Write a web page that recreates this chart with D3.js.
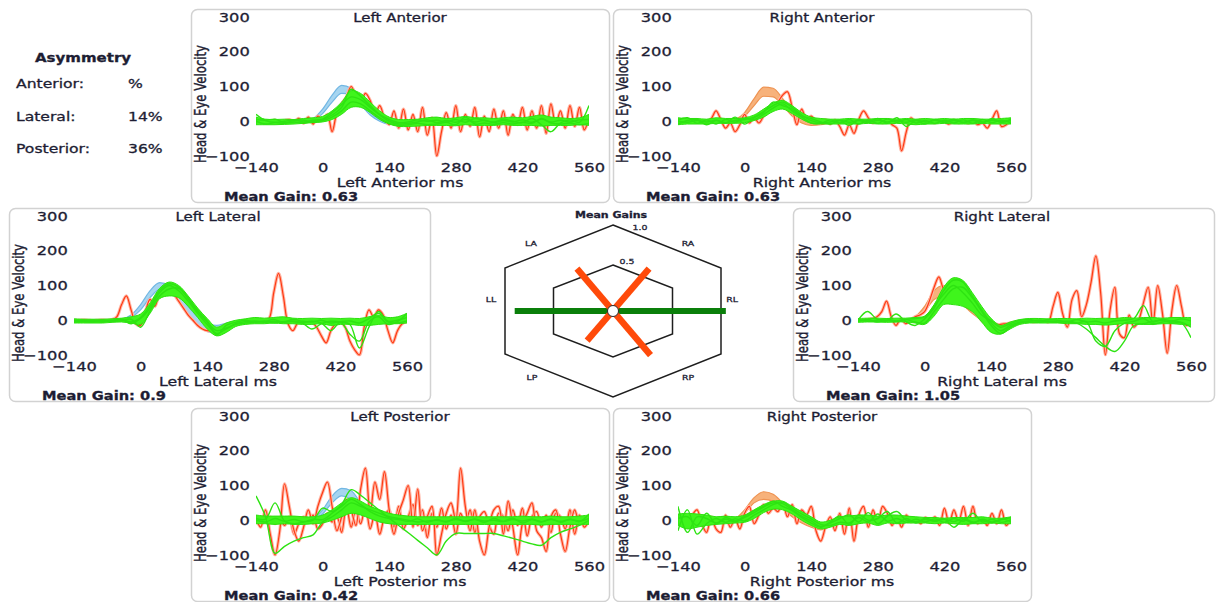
<!DOCTYPE html>
<html>
<head>
<meta charset="utf-8">
<title>Head Impulse Summary</title>
<script src="https://cdn.jsdelivr.net/npm/d3@7/dist/d3.min.js"></script>
<style>
  body { margin: 0; background: #ffffff; }
  text { font-family: "DejaVu Sans", sans-serif; fill: #1d1d33; stroke: #1d1d33; stroke-width: 0.3px; }
</style>
</head>
<body>
<svg id="chart" width="1222" height="602"></svg>
<script>
// Sample times in ms
var headTimes = [-40, -20, 0, 20, 40, 60, 80, 100, 120, 140, 160, 180, 200];
var greenTimes = [-140, -120, -100, -80, -60, -40, -20, 0, 20, 40, 60, 80, 100, 120, 140, 160, 180, 200,
    220, 240, 260, 280, 300, 320, 340, 360, 380, 400, 420, 440, 460, 480, 500, 520, 540, 560];
var redTimes = [-140, -130, -120, -110, -100, -90, -80, -70, -60, -50, -40, -30, -20, -10, 0, 10, 20, 30, 40, 50,
    60, 70, 80, 90, 100, 110, 120, 130, 140, 150, 160, 170, 180, 190, 200, 210, 220, 230, 240, 250,
    260, 270, 280, 290, 300, 310, 320, 330, 340, 350, 360, 370, 380, 390, 400, 410, 420, 430, 440, 450,
    460, 470, 480, 490, 500, 510, 520, 530, 540, 550, 560];

// Left Anterior
var laHeadHi = [0, 8, 35, 75, 103, 95, 60, 25, 5, -5, -5, -2, 0];
var laHeadLo = [0, 3, 22, 55, 80, 78, 48, 18, 0, -8, -8, -3, 0];
var laGreenHi = [12, 6, 5, 6, 5, 8, 10, 14, 30, 55, 88, 80, 55, 30, 12, 5, 5, 6, 10, 12, 8, 10, 14, 10, 10, 8, 10, 12, 10, 14, 18, 12, 10, 8, 10, 20];
var laGreenLo = [-10, -10, -10, -9, -8, -6, -4, -2, 5, 20, 40, 40, 25, 5, -8, -15, -15, -14, -12, -12, -12, -13, -10, -12, -12, -12, -10, -12, -12, -12, -14, -12, -12, -12, -10, -12];
var laGreen1 = [20, 2, -3, 0, 4, -2, 3, 6, 25, 48, 70, 62, 40, 18, 0, -8, -6, -2, 4, -4, 2, -3, 5, -2, 3, -4, 2, -2, 4, -3, 6, -2, 3, -2, 4, 5];
var laGreen2 = [0, -8, -4, -6, -2, -5, 0, 2, 12, 30, 55, 50, 30, 10, -6, -12, -10, -6, -10, -8, -3, -10, 12, -8, -5, -9, -4, -8, -3, -6, 8, -5, -8, -5, -10, -6];
var laGreen3 = [5, 3, 6, -4, 2, 3, -3, 4, 18, 40, 92, 72, 45, 20, 5, -4, -2, 4, 0, 3, -2, 5, -3, 8, 2, -2, 6, 0, -4, 8, -10, -30, -5, 4, -3, 45];
var laRed = [0, -3, 2, -2, 3, -4, 2, 5, -3, 8, -6, 12, -8, 15, 5, 20, -30, 25, 50, 70,
    100, 75, 55, 80, 60, 20, 45, 10, -10, 30, -20, 35, -25, 20, -30, 40, -40, 10, -100, -30,
    25, -20, 45, -30, 20, -15, 40, -45, 15, -30, 35, -20, 30, -40, 20, -10, 40, -25, 30, -20,
    45, -35, 50, -10, 30, -20, 45, -15, 40, -25, 10];

// Right Anterior
var raHeadHi = [0, 5, 25, 65, 98, 95, 65, 30, 8, -2, -4, -2, 0];
var raHeadLo = [0, 2, 15, 45, 72, 70, 45, 15, -5, -12, -10, -4, 0];
var raGreenHi = [10, 8, 8, 6, 10, 8, 8, 10, 18, 35, 52, 60, 45, 25, 12, 8, 6, 6, 8, 6, 6, 8, 8, 6, 8, 6, 8, 6, 8, 6, 8, 8, 6, 6, 8, 10];
var raGreenLo = [-10, -8, -8, -8, -6, -6, -6, -4, 2, 12, 28, 35, 22, 6, -6, -8, -8, -8, -8, -8, -6, -8, -8, -6, -8, -10, -8, -8, -6, -8, -8, -8, -6, -8, -8, -8];
var raGreen1 = [0, -3, 2, -2, 3, -4, 2, 5, 12, 28, 45, 55, 40, 18, 2, -4, -2, 3, -3, 2, -4, 3, -2, 2, -3, 4, -2, 3, -4, 2, -3, 4, -2, 3, -2, 2];
var raGreen2 = [3, 10, -6, 4, -8, 5, -3, 8, 5, 20, 38, 50, 30, 12, -5, -6, 4, -5, 5, -8, 3, -6, 6, -3, 5, -5, 2, -6, 3, -5, 4, -6, 5, -4, 3, -5];
var raGreen3 = [-8, 2, 5, -10, 2, -6, 12, -8, 10, 25, 55, 45, 35, 15, 8, -2, -8, 2, -12, 5, -2, 8, -6, 10, -15, 2, -8, 5, -2, 6, -4, 2, -6, 8, -3, 6];
var raRed = [0, 2, -2, 3, -2, 2, -3, 8, 30, 5, -20, -5, -30, -10, 20, -5, 10, -5, 15, 30,
    40, 55, 75, 85, 40, -10, 35, 5, 15, 0, -5, 5, -8, 3, -15, -40, -10, -35, 5, 30,
    10, -5, 3, -5, 5, -10, -20, -85, -30, 10, -5, 5, -3, 2, -5, 3, -2, -8, 3, -5,
    2, -6, 3, -10, -5, -20, 5, 30, -15, -10, 5];

// Left Lateral
var llHeadHi = [3, 15, 45, 85, 108, 100, 75, 40, 10, -10, -15, -8, -2];
var llHeadLo = [0, 8, 30, 65, 88, 85, 55, 15, -15, -32, -38, -20, -8];
var llGreenHi = [4, 3, 3, 3, 4, 6, 10, 18, 50, 92, 110, 100, 70, 35, 5, -20, -8, 0, 4, 8, 6, 8, 10, 6, 5, 6, 5, 6, 5, 6, 5, 10, 15, 8, 10, 20];
var llGreenLo = [-8, -8, -8, -8, -6, -5, -8, -12, 20, 62, 70, 65, 40, 8, -25, -45, -35, -18, -12, -10, -10, -8, -10, -10, -12, -12, -10, -15, -12, -12, -15, -15, -12, -10, -10, -8];
var llGreen1 = [-2, 0, -3, 0, -2, 2, -10, 5, 35, 80, 100, 85, 55, 20, -12, -38, -25, -10, -4, -2, -6, -3, -5, -4, -8, -25, -10, -3, -5, -12, -80, -20, 25, -5, -8, -2];
var llGreen2 = [-5, -4, -5, -3, -3, -1, 3, -20, 28, 70, 90, 92, 62, 25, -5, -30, -22, -12, -8, -5, -2, -8, -4, -2, -6, -3, -8, -30, -6, -40, -60, -5, 10, -12, -4, 20];
var llGreen3 = [0, -2, 0, -5, 0, 3, -5, 8, 42, 86, 105, 95, 65, 28, -2, -42, -15, -6, 0, -6, -4, 2, -6, 3, -3, -5, 0, -8, -4, -2, -8, 5, 20, -3, 0, 8];
var llRed = [0, 0, 1, 0, -1, 0, 1, 0, 2, 10, 45, 70, 30, -10, -15, 25, 60, 40, 80, 95,
    90, 75, 55, 35, 15, 0, -15, -25, -30, -30, -25, -20, -12, -10, -8, -6, -5, -4, -3, -2,
    0, 5, 80, 135, 70, -10, -30, -8, 0, -2, -5, -20, -45, -65, -30, -10, -5, -20, -60, -85,
    -100, -20, 30, 10, 30, 15, -30, -65, -30, -10, -5];

// Right Lateral
var rlHeadHi = [0, 10, 40, 85, 100, 95, 70, 40, 12, -5, -10, -6, -2];
var rlHeadLo = [0, 5, 25, 60, 70, 65, 45, 20, 0, -15, -18, -10, -4];
var rlGreenHi = [5, 6, 6, 5, 6, 6, 8, 12, 45, 95, 122, 115, 80, 40, 5, -15, -5, 2, 5, 5, 4, 5, 5, 4, 6, 5, 6, 5, 8, 6, 8, 8, 6, 8, 8, 8];
var rlGreenLo = [-6, -5, -5, -6, -5, -5, -8, -12, 12, 45, 45, 40, 25, -5, -35, -40, -25, -12, -8, -8, -8, -8, -10, -10, -12, -12, -14, -12, -10, -10, -12, -12, -10, -10, -12, -15];
var rlGreen1 = [0, 25, 3, -2, 18, -3, -15, 4, 35, 85, 115, 110, 70, 30, -8, -30, -15, -5, -2, 0, -4, -6, -5, -8, -4, -60, -75, -30, -8, -3, 5, -10, -5, -2, -8, -50];
var rlGreen2 = [-3, 2, -5, 0, -4, 2, -5, -8, 25, 60, 90, 95, 65, 25, -15, -38, -20, -8, -5, -6, -2, -5, -3, -8, -25, -50, -75, -90, -60, -15, -10, -3, 0, -8, -6, -20];
var rlGreen3 = [2, -2, 0, 4, -2, 3, 5, 10, 40, 75, 100, 80, 50, 15, -2, -20, -10, 0, 2, -3, 2, 0, -4, 2, -5, -3, -8, -2, 0, 5, 42, -5, 3, -2, 4, -2];
var rlRed = [0, 0, 2, 5, 10, 25, 55, 10, -15, 5, -10, 0, 10, 15, 25, 55, 95, 125, 90, 80,
    85, 75, 60, 45, 30, 15, 0, -10, -15, -15, -12, -10, -8, -5, -5, -3, -2, -5, -3, 0,
    -5, 40, 80, 20, -20, 60, 85, 10, 45, 110, 185, 80, -100, 30, 95, -40, -50, 15, -20, 0,
    50, 95, -10, 100, 20, -95, 30, 100, 40, -15, 0];

// Left Posterior
var lpHeadHi = [0, 5, 30, 70, 92, 85, 50, 15, 0, -5, -5, -2, 0];
var lpHeadLo = [0, 2, 18, 50, 70, 60, 30, 5, -5, -8, -6, -2, 0];
var lpGreenHi = [15, 12, 12, 12, 12, 10, 10, 15, 30, 50, 65, 55, 40, 30, 20, 15, 12, 10, 10, 10, 10, 10, 10, 10, 10, 10, 10, 10, 12, 10, 10, 12, 10, 10, 12, 15];
var lpGreenLo = [-10, -10, -12, -10, -12, -12, -10, -8, 0, 10, 20, 15, 5, -5, -10, -12, -12, -12, -12, -12, -12, -12, -12, -12, -12, -12, -12, -12, -12, -12, -14, -12, -12, -12, -12, -12];
var lpGreen1 = [70, 10, -95, -75, -60, -50, -42, -5, 10, 30, 50, 40, 30, 20, 10, 5, 0, -5, -2, 0, -3, 2, -2, 3, -2, 0, -4, 2, -2, 3, -4, 2, -3, 2, -2, 5];
var lpGreen2 = [0, -5, 5, -3, 2, -4, 3, 2, 20, 45, 88, 72, 50, 28, 6, -15, -36, -58, -79, -100, -60, -38, -38, -38, -38, -38, -45, -52, -60, -68, -72, -50, -35, -25, -15, 0];
var lpGreen3 = [5, 3, 50, -2, -10, -5, 0, 35, 25, 40, 60, 45, 25, 12, 5, 2, -3, 4, -6, 2, -5, 6, -4, 3, -6, 5, -3, 6, -8, 2, -5, 4, -6, 3, -4, 18];
var lpRed = [5, -20, 30, -40, -100, -30, 105, 40, -30, -60, -20, 30, -10, 40, 80, 110, 40, -30, 10, 60,
    30, -15, 90, 150, 20, 110, 60, 140, 30, -40, 20, 60, 100, -20, 90, -30, 10, 40, -100, -40,
    20, 50, 0, 150, 40, -30, 30, -60, -100, -20, 30, 40, -40, 55, -20, -100, -10, 20, 50, -30,
    -50, -90, 10, 30, -40, -90, -20, 30, -10, 10, -5];
var lpRed2 = [0, 5, -5, 10, -10, 5, -15, 10, -40, -10, 10, -5, 15, -25, -10, 20, -5, 10, -35, 40,
    -20, 30, -10, 40, -25, 20, -40, 10, 30, -20, 40, -25, 10, 45, -15, 30, -50, 20, -20, 35,
    -25, 15, -40, 20, -10, 30, -35, 10, 25, -15, -40, 20, 10, -30, 30, -15, 35, -45, 10, 25,
    -20, 15, -35, 20, 10, -25, 30, -40, 15, -20, 0];

// Right Posterior
var rpHeadHi = [0, 5, 30, 65, 82, 75, 50, 25, 5, -10, -20, -10, -2];
var rpHeadLo = [0, 2, 20, 50, 60, 55, 35, 10, -8, -20, -28, -18, -5];
var rpGreenHi = [18, 20, 18, 15, 10, 12, 10, 15, 30, 45, 55, 55, 40, 25, 10, -5, 0, 10, 12, 15, 15, 12, 15, 15, 12, 10, 8, 8, 6, 8, 8, 8, 10, 6, 6, 10];
var rpGreenLo = [-15, -25, -20, -15, -12, -10, -8, -6, 5, 22, 32, 30, 18, 0, -15, -25, -20, -12, -15, -10, -8, -15, -8, -10, -8, -8, -8, -10, -8, -10, -12, -10, -10, -8, -10, -10];
var rpGreen1 = [40, -35, 10, 5, -8, 3, -5, 8, 22, 38, 50, 48, 30, 12, -2, -18, -8, 5, 15, -5, 22, -10, 12, 25, 0, -4, 2, -3, 4, -20, 2, -8, 3, -5, 2, 8];
var rpGreen2 = [-30, 30, -40, -10, 5, -6, 4, -2, 15, 30, 45, 52, 35, 18, 4, -12, -15, -6, -8, 8, -5, 18, -3, 5, -6, 3, -5, 4, -6, 5, -3, 20, -5, 3, -6, 2];
var rpGreen3 = [5, 10, -15, 20, -10, 8, -2, 12, 28, 40, 55, 40, 28, 8, -8, -20, -5, 12, -12, 15, 0, 5, 25, -8, 5, -8, 6, -2, 3, -4, 6, -5, 0, -8, 4, -5];
var rpRed = [0, 10, -20, 15, 30, -10, -35, 10, -25, -35, 15, -20, 5, -25, 20, 40, -10, 15, 45, 20,
    35, 25, 50, 10, 45, -10, 30, 15, 40, -30, -60, -20, 10, -30, 20, -40, 35, -60, 15, 40,
    -20, 30, -10, 40, 20, -15, 10, -20, 15, -5, 5, -10, 8, -5, 10, -15, 35, -10, 30, -5,
    40, -15, 40, -10, 5, -15, 20, -10, 30, -15, 5];

// Canal names and mean gains
var canalKeys = ['LA', 'RA', 'LL', 'RL', 'LP', 'RP'];
var canalTitles = ['Left Anterior', 'Right Anterior', 'Left Lateral', 'Right Lateral', 'Left Posterior', 'Right Posterior'];
var meanGains = [0.63, 0.63, 0.9, 1.05, 0.42, 0.66];

// Asymmetry table
var asymLabels = ['Anterior:', 'Lateral:', 'Posterior:'];
var asymValues = ['%', '14%', '36%'];

// Axis ticks and gain rings
var yTicks = [300, 200, 100, 0, -100];
var xTicks = [-140, 0, 140, 280, 420, 560];
var ringValues = [1.0, 0.5];
var ringLabels = ['1.0', '0.5'];

// Traces for every panel
var panelTraces = {
    LA: {side: 'left', headHi: laHeadHi, headLo: laHeadLo, greenHi: laGreenHi, greenLo: laGreenLo, greens: [laGreen1, laGreen2, laGreen3], reds: [laRed]},
    RA: {side: 'right', headHi: raHeadHi, headLo: raHeadLo, greenHi: raGreenHi, greenLo: raGreenLo, greens: [raGreen1, raGreen2, raGreen3], reds: [raRed]},
    LL: {side: 'left', headHi: llHeadHi, headLo: llHeadLo, greenHi: llGreenHi, greenLo: llGreenLo, greens: [llGreen1, llGreen2, llGreen3], reds: [llRed]},
    RL: {side: 'right', headHi: rlHeadHi, headLo: rlHeadLo, greenHi: rlGreenHi, greenLo: rlGreenLo, greens: [rlGreen1, rlGreen2, rlGreen3], reds: [rlRed]},
    LP: {side: 'left', headHi: lpHeadHi, headLo: lpHeadLo, greenHi: lpGreenHi, greenLo: lpGreenLo, greens: [lpGreen1, lpGreen2, lpGreen3], reds: [lpRed2, lpRed]},
    RP: {side: 'right', headHi: rpHeadHi, headLo: rpHeadLo, greenHi: rpGreenHi, greenLo: rpGreenLo, greens: [rpGreen1, rpGreen2, rpGreen3], reds: [rpRed]}
};

// Panel boxes: left, top, width, height
var panelBoxes = {
    LA: [191, 9, 418, 193], RA: [613, 9, 418, 193],
    LL: [9, 208, 421, 193], RL: [793, 208, 421, 193],
    LP: [191, 408, 418, 193], RP: [613, 408, 418, 193]
};

var svg = d3.select('#chart');
var textStretch = 1.25;

// Add a horizontally stretched text
function addText(parent, x, y, str, size, weight, anchor){
    return parent.append('text')
        .attr('transform', 'translate(' + x + ',' + y + ') scale(' + textStretch + ',1)')
        .attr('font-size', size + 'px')
        .attr('font-weight', weight)
        .attr('text-anchor', anchor)
        .text(str);
}

// Draw one velocity panel
function drawPanel(key, i){
    var box = panelBoxes[key];
    var tr = panelTraces[key];
    var g = svg.append('g')
        .attr('transform', 'translate(' + box[0] + ',' + box[1] + ')');

    // Panel frame
    g.append('rect')
        .attr('x', 0.5).attr('y', 0.5)
        .attr('width', box[2]).attr('height', box[3])
        .attr('rx', 6)
        .attr('fill', '#ffffff')
        .attr('stroke', '#d2d2d2')
        .attr('stroke-width', 1.5);

    // Scales
    var x = d3.scaleLinear().domain([-140, 560]).range([65, 398]);
    var y = d3.scaleLinear().domain([-100, 300]).range([147, 8]);

    // Clip traces to the plot area
    var clipId = 'clip-' + key;
    g.append('clipPath').attr('id', clipId)
        .append('rect')
        .attr('x', x(-140)).attr('y', y(300))
        .attr('width', x(560) - x(-140))
        .attr('height', y(-104) - y(300));
    var plot = g.append('g').attr('clip-path', 'url(#' + clipId + ')');

    var headFill = tr.side == 'left' ? '#a6d5f0' : '#f7b27b';
    var headLine = tr.side == 'left' ? '#72b7e3' : '#ee9352';

    // Head velocity band
    var headArea = d3.area()
        .x(function(d, j){ return x(headTimes[j]) })
        .y0(function(d, j){ return y(tr.headLo[j]) })
        .y1(function(d){ return y(d) })
        .curve(d3.curveMonotoneX);
    var headLineGen = d3.line()
        .x(function(d, j){ return x(headTimes[j]) })
        .y(function(d){ return y(d) })
        .curve(d3.curveMonotoneX);
    plot.append('path').datum(tr.headHi)
        .attr('d', headArea)
        .attr('fill', headFill);
    [tr.headHi, tr.headLo].forEach(function(arr){
        plot.append('path').datum(arr)
            .attr('d', headLineGen)
            .attr('fill', 'none')
            .attr('stroke', headLine)
            .attr('stroke-width', 1.2);
    });

    // Saccade traces (red with light halo)
    var redLine = d3.line()
        .x(function(d, j){ return x(redTimes[j]) })
        .y(function(d){ return y(d) })
        .curve(d3.curveCatmullRom);
    tr.reds.forEach(function(arr){
        plot.append('path').datum(arr)
            .attr('d', redLine)
            .attr('fill', 'none')
            .attr('stroke', '#ffb6a6')
            .attr('stroke-width', 3.2);
        plot.append('path').datum(arr)
            .attr('d', redLine)
            .attr('fill', 'none')
            .attr('stroke', '#ff3a12')
            .attr('stroke-width', 1.2);
    });

    // Eye velocity band
    var greenArea = d3.area()
        .x(function(d, j){ return x(greenTimes[j]) })
        .y0(function(d, j){ return y(tr.greenLo[j]) })
        .y1(function(d){ return y(d) })
        .curve(d3.curveCatmullRom);
    plot.append('path').datum(tr.greenHi)
        .attr('d', greenArea)
        .attr('fill', '#3ff51c')
        .attr('stroke', '#2ee010')
        .attr('stroke-width', 1);

    // Eye velocity traces
    var greenLine = d3.line()
        .x(function(d, j){ return x(greenTimes[j]) })
        .y(function(d){ return y(d) })
        .curve(d3.curveCatmullRom);
    tr.greens.forEach(function(arr){
        plot.append('path').datum(arr)
            .attr('d', greenLine)
            .attr('fill', 'none')
            .attr('stroke', '#2ee312')
            .attr('stroke-width', 1.4);
    });

    // Y axis tick labels
    var yAxis = g.append('g')
        .attr('transform', 'translate(' + x(-140) + ',0)')
        .call(d3.axisLeft(y).tickValues(yTicks).tickSize(0).tickPadding(5));
    yAxis.select('.domain').remove();
    yAxis.selectAll('text')
        .attr('font-family', null).attr('fill', null)
        .attr('font-size', '13px')
        .attr('transform', 'scale(' + textStretch + ',1)');

    // X axis tick labels
    var xAxis = g.append('g')
        .attr('transform', 'translate(0,' + y(-100) + ')')
        .call(d3.axisBottom(x).tickValues(xTicks).tickSize(0).tickPadding(7));
    xAxis.select('.domain').remove();
    xAxis.selectAll('text')
        .attr('font-family', null).attr('fill', null)
        .attr('font-size', '13px')
        .attr('transform', 'scale(' + textStretch + ',1)');

    // Y axis title
    g.append('text')
        .attr('transform', 'translate(15,95) rotate(-90) scale(1,1.35)')
        .attr('font-family', '"Liberation Sans", sans-serif')
        .attr('font-size', '11.7px')
        .attr('text-anchor', 'middle')
        .text('Head & Eye Velocity');

    // Panel title, x title and mean gain
    addText(g, 209, 12.5, canalTitles[i], 12, 'normal', 'middle');
    addText(g, 209, 178, canalTitles[i] + ' ms', 12.6, 'normal', 'middle');
    addText(g, 33, 191.5, 'Mean Gain: ' + meanGains[i], 11.7, 'bold', 'start');
}

canalKeys.forEach(drawPanel);

// Asymmetry table
var asym = svg.append('g');
addText(asym, 35, 62, 'Asymmetry', 12, 'bold', 'start');
asymLabels.forEach(function(lbl, j){
    addText(asym, 16, 88 + j * 32.5, lbl, 12.5, 'normal', 'start');
    addText(asym, 128, 88 + j * 32.5, asymValues[j], 12.5, 'normal', 'start');
});

// Mean gains hexagon
var hexCx = 613, hexCy = 311;
var gainRx = d3.scaleLinear().domain([0, 1]).range([11, 108]);
var gainRy = d3.scaleLinear().domain([0, 1]).range([5.2, 74.5]);
var axisAngle = {LA: 120, RA: 60, LL: 180, RL: 0, LP: 240, RP: 300};
var hexLabelPos = {LA: [531, 246], RA: [688, 246], LL: [491, 302], RL: [732, 302], LP: [532, 380], RP: [688, 380]};
var ringLabelPos = [[640, 230], [627, 264]];

function gainPoint(key){
    var a = axisAngle[key] * Math.PI / 180;
    var v = meanGains[canalKeys.indexOf(key)];
    return [hexCx + gainRx(v) * Math.cos(a), hexCy - gainRy(v) * Math.sin(a)];
}

var hex = svg.append('g');
addText(hex, 611, 218, 'Mean Gains', 8.8, 'bold', 'middle');

ringValues.forEach(function(v, j){
    var rx = gainRx(v), ry = gainRy(v) / Math.cos(Math.PI / 6);
    var pts = [[0, -ry], [rx, -ry / 2], [rx, ry / 2], [0, ry], [-rx, ry / 2], [-rx, -ry / 2]]
        .map(function(p){ return [hexCx + p[0], hexCy + p[1]] });
    hex.append('path')
        .attr('d', d3.line()(pts) + 'Z')
        .attr('fill', 'none')
        .attr('stroke', '#1e1e1e')
        .attr('stroke-width', 1.5);
    addText(hex, ringLabelPos[j][0], ringLabelPos[j][1], ringLabels[j], 7.5, 'normal', 'middle');
});

canalKeys.forEach(function(k){
    addText(hex, hexLabelPos[k][0], hexLabelPos[k][1], k, 7.5, 'normal', 'middle');
});

// Lateral gains line
hex.append('path')
    .attr('d', d3.line()([gainPoint('LL'), gainPoint('RL')]))
    .attr('stroke', '#0a7f0a')
    .attr('stroke-width', 6);

// Vertical canal gain lines
[['LA', 'RP'], ['RA', 'LP']].forEach(function(pair){
    hex.append('path')
        .attr('d', d3.line()([gainPoint(pair[0]), gainPoint(pair[1])]))
        .attr('stroke', '#ff4a0a')
        .attr('stroke-width', 6.5);
});

hex.append('circle')
    .attr('cx', hexCx).attr('cy', hexCy)
    .attr('r', 5.5)
    .attr('fill', '#ffffff')
    .attr('stroke', '#2a2a2a')
    .attr('stroke-width', 1);
</script>
</body>
</html>
